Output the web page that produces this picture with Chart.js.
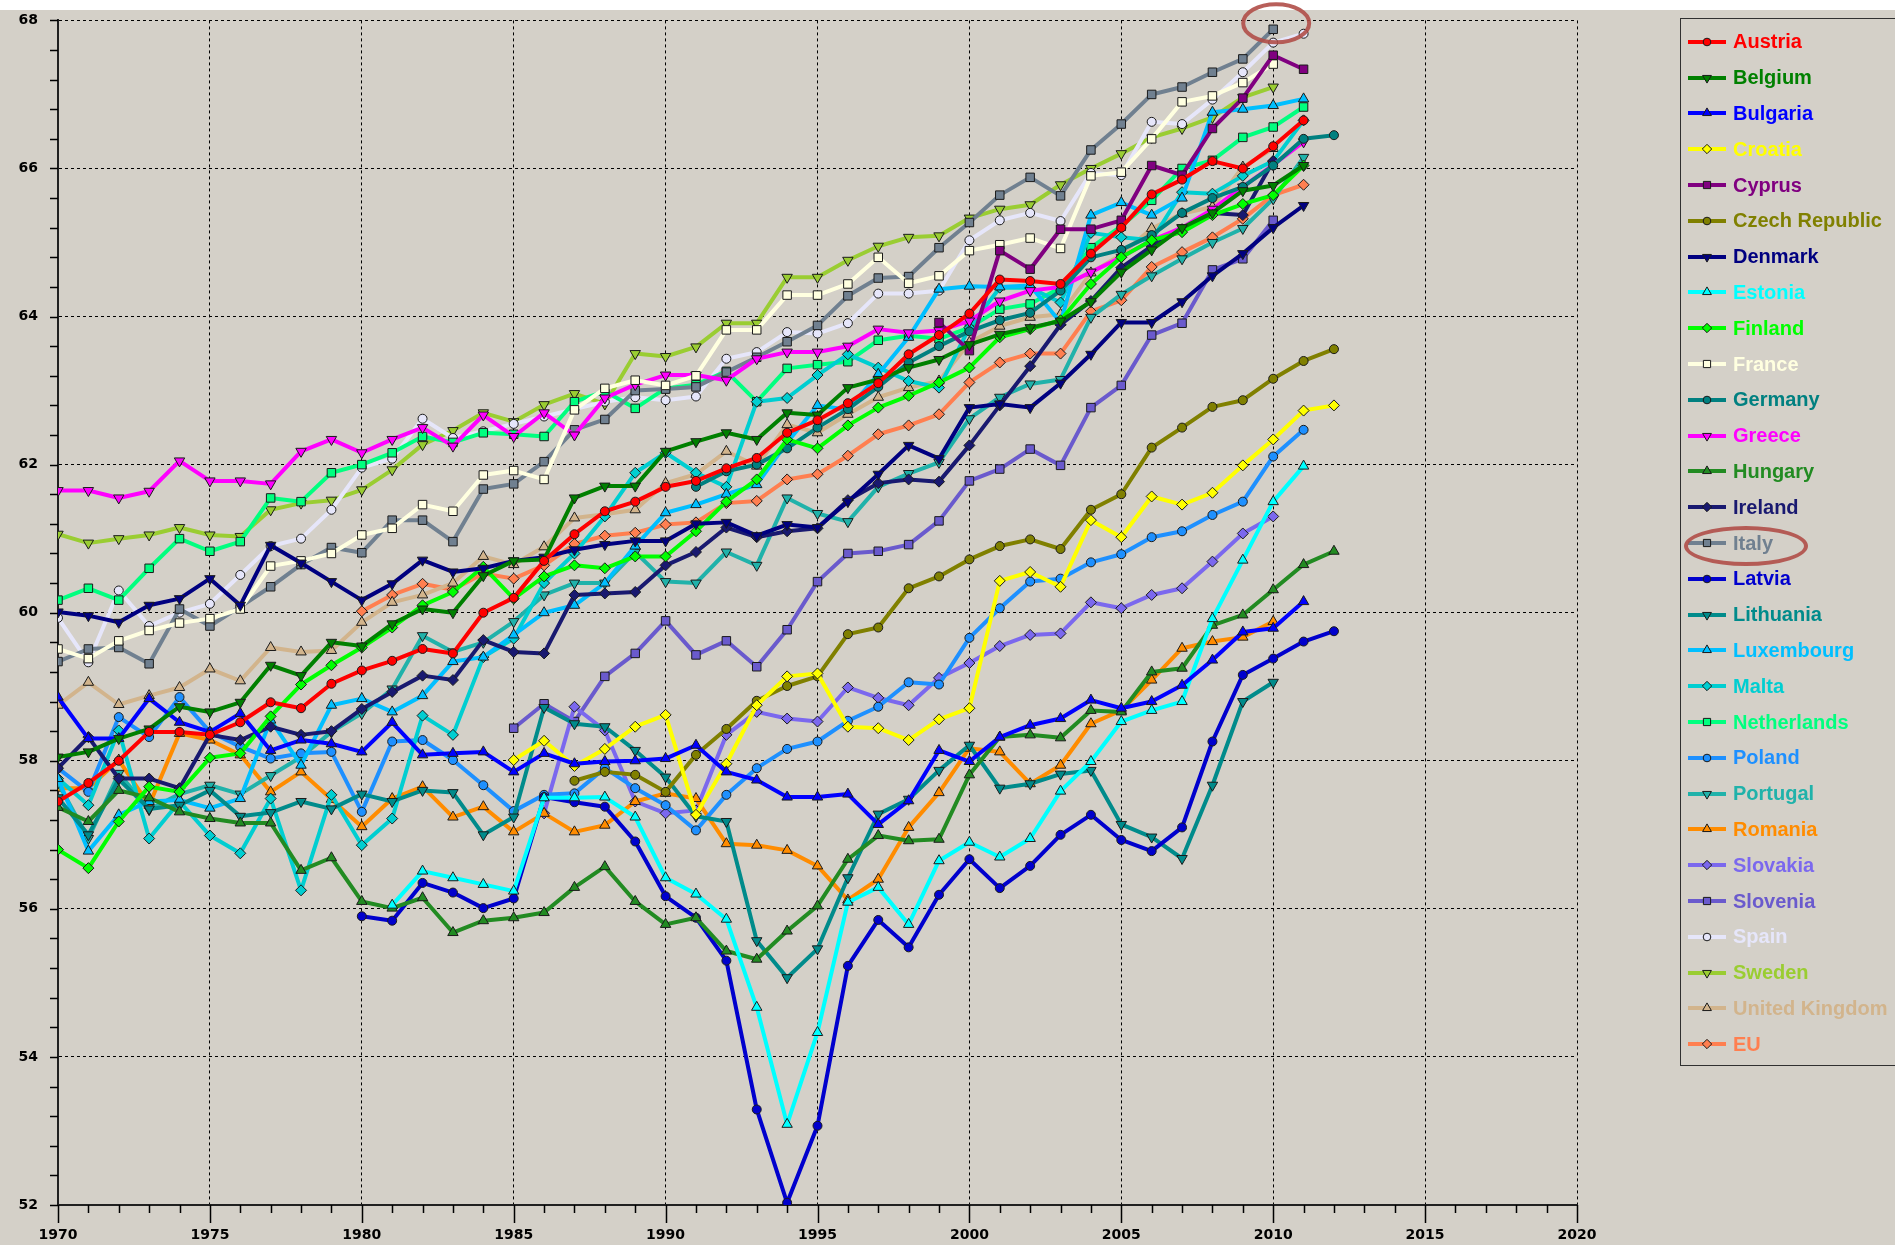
<!DOCTYPE html>
<html>
<head>
<meta charset="utf-8">
<script src="https://cdn.jsdelivr.net/npm/chart.js@4.4.1/dist/chart.umd.min.js"></script>
<style>
  body { margin: 0; background: #d4d0c8; width: 1895px; height: 1245px; overflow: hidden; position: relative; }
  #strip { position: absolute; left: 0; top: 0; width: 1895px; height: 10px; background: #fff; }
  #chart { position: absolute; left: 0; top: 0; }
  #legend { position: absolute; left: 1680px; top: 18px; width: 240px; height: 1048px; border: 1px solid #303030; box-sizing: border-box; padding-top: 5px; }
  .item { height: 35.8px; display: flex; align-items: center; }
  .item canvas { margin-left: 7px; margin-right: 7px; }
  .item span { font: bold 20px "Liberation Sans", Arial, sans-serif; white-space: nowrap; }
  #mark { position: absolute; left: 1684px; top: 526px; width: 124px; height: 40px; border: 4px solid rgba(176, 78, 72, 0.9); border-radius: 50%; box-sizing: border-box; }
</style>
</head>
<body>
<div id="strip"></div>
<canvas id="chart" width="1895" height="1245"></canvas>
<div id="legend"></div>
<div id="mark"></div>
<script>
// values, one array per country, starting at firstYear
const austria = [57.45, 57.7, 58.0, 58.39, 58.39, 58.35, 58.52, 58.79, 58.71, 59.04, 59.22, 59.35, 59.51, 59.45, 60.0, 60.2, 60.7, 61.06, 61.37, 61.5, 61.7, 61.78, 61.95, 62.09, 62.43, 62.6, 62.83, 63.1, 63.49, 63.75, 64.04, 64.5, 64.48, 64.44, 64.85, 65.2, 65.65, 65.85, 66.1, 66.0, 66.3, 66.65];
const belgium = [58.05, 58.12, 58.3, 58.43, 58.73, 58.66, 58.79, 59.29, 59.15, 59.6, 59.55, 59.85, 60.05, 60.0, 60.5, 60.7, 60.72, 61.55, 61.71, 61.71, 62.18, 62.31, 62.43, 62.34, 62.7, 62.67, 63.04, 63.15, 63.31, 63.42, 63.62, 63.76, 63.85, 63.94, 64.2, 64.6, 64.9, 65.2, 65.4, 65.7, 65.77, 66.04];
const bulgaria = [58.86, 58.3, 58.3, 58.84, 58.52, 58.39, 58.64, 58.14, 58.28, 58.23, 58.12, 58.52, 58.08, 58.1, 58.12, 57.85, 58.1, 57.96, 57.99, 58.0, 58.03, 58.21, 57.85, 57.74, 57.51, 57.51, 57.55, 57.14, 57.46, 58.14, 57.99, 58.32, 58.48, 58.57, 58.82, 58.71, 58.8, 59.02, 59.36, 59.74, 59.79, 60.15];
const croatia = [58.01, 58.27, 57.93, 58.16, 58.46, 58.62, 57.27, 57.96, 58.75, 59.14, 59.18, 58.46, 58.44, 58.28, 58.56, 58.71, 60.43, 60.55, 60.35, 61.25, 61.02, 61.57, 61.46, 61.62, 61.99, 62.34, 62.73, 62.8];
const cyprus = [63.92, 63.54, 64.89, 64.64, 65.18, 65.18, 65.3, 66.04, 65.91, 66.54, 66.95, 67.53, 67.34];
const czech = [57.73, 57.85, 57.81, 57.58, 58.08, 58.43, 58.81, 59.01, 59.14, 59.71, 59.8, 60.33, 60.49, 60.72, 60.9, 60.99, 60.86, 61.39, 61.6, 62.23, 62.5, 62.78, 62.87, 63.16, 63.4, 63.56];
const denmark = [60.01, 59.96, 59.87, 60.1, 60.19, 60.46, 60.1, 60.91, 60.67, 60.42, 60.17, 60.39, 60.71, 60.55, 60.6, 60.7, 60.75, 60.85, 60.92, 60.97, 60.97, 61.2, 61.22, 61.04, 61.19, 61.15, 61.5, 61.87, 62.26, 62.08, 62.77, 62.82, 62.77, 63.1, 63.49, 63.92, 63.92, 64.2, 64.55, 64.85, 65.2, 65.5];
const estonia = [56.05, 56.51, 56.42, 56.33, 56.24, 57.5, 57.5, 57.51, 57.24, 56.42, 56.2, 55.86, 54.67, 53.09, 54.33, 56.09, 56.29, 55.79, 56.65, 56.9, 56.7, 56.95, 57.59, 57.99, 58.53, 58.68, 58.8, 59.92, 60.71, 61.5, 61.98];
const finland = [56.8, 56.55, 57.18, 57.65, 57.58, 58.04, 58.1, 58.6, 59.03, 59.29, 59.53, 59.8, 60.1, 60.28, 60.62, 60.19, 60.49, 60.64, 60.6, 60.76, 60.76, 61.1, 61.5, 61.8, 62.34, 62.22, 62.53, 62.77, 62.93, 63.11, 63.31, 63.72, 63.83, 63.95, 64.44, 64.8, 65.03, 65.14, 65.37, 65.52, 65.64, 66.04];
const france = [59.51, 59.38, 59.62, 59.76, 59.86, 59.92, 60.05, 60.63, 60.7, 60.8, 61.05, 61.14, 61.46, 61.37, 61.86, 61.92, 61.8, 62.74, 63.03, 63.14, 63.07, 63.2, 63.82, 63.82, 64.29, 64.29, 64.44, 64.8, 64.45, 64.55, 64.89, 64.97, 65.06, 64.92, 65.9, 65.95, 66.4, 66.9, 66.98, 67.16, 67.41];
const germany = [61.7, 61.91, 62.0, 62.22, 62.5, 62.75, 63.05, 63.38, 63.6, 63.8, 63.95, 64.05, 64.35, 64.8, 64.9, 65.1, 65.4, 65.6, 65.75, 66.04, 66.4, 66.45];
const greece = [61.65, 61.65, 61.55, 61.64, 62.05, 61.78, 61.78, 61.74, 62.18, 62.34, 62.16, 62.34, 62.5, 62.25, 62.67, 62.38, 62.7, 62.4, 62.9, 63.08, 63.21, 63.21, 63.14, 63.43, 63.52, 63.52, 63.6, 63.83, 63.78, 63.81, 63.94, 64.21, 64.35, 64.4, 64.6, 64.8, 65.03, 65.2, 65.45, 65.75, 66.05, 66.36];
const hungary = [57.37, 57.18, 57.6, 57.5, 57.31, 57.22, 57.16, 57.16, 56.52, 56.69, 56.1, 56.01, 56.15, 55.68, 55.84, 55.88, 55.95, 56.29, 56.57, 56.1, 55.79, 55.88, 55.43, 55.32, 55.7, 56.04, 56.67, 56.99, 56.92, 56.94, 57.81, 58.32, 58.35, 58.31, 58.68, 58.66, 59.2, 59.25, 59.83, 59.97, 60.31, 60.65, 60.83];
const ireland = [57.9, 58.32, 57.76, 57.76, 57.63, 58.35, 58.28, 58.46, 58.35, 58.4, 58.7, 58.93, 59.15, 59.09, 59.63, 59.47, 59.45, 60.24, 60.26, 60.28, 60.64, 60.82, 61.15, 61.02, 61.1, 61.14, 61.52, 61.75, 61.8, 61.77, 62.26, 62.8, 63.33, 63.89, 64.21, 64.66, 64.95, 65.18, 65.4, 65.37, 66.1];
const italy = [59.34, 59.51, 59.53, 59.31, 60.05, 59.82, 60.08, 60.35, 60.65, 60.88, 60.81, 61.25, 61.25, 60.96, 61.67, 61.74, 62.04, 62.47, 62.61, 63.0, 63.02, 63.05, 63.25, 63.45, 63.66, 63.88, 64.28, 64.52, 64.54, 64.93, 65.27, 65.64, 65.88, 65.63, 66.25, 66.6, 67.0, 67.1, 67.3, 67.48, 67.88];
const latvia = [55.9, 55.84, 56.35, 56.22, 56.01, 56.14, 57.51, 57.44, 57.38, 56.91, 56.17, 55.88, 55.3, 53.29, 52.03, 53.07, 55.23, 55.85, 55.48, 56.19, 56.67, 56.28, 56.58, 57.0, 57.27, 56.93, 56.78, 57.1, 58.26, 59.16, 59.38, 59.61, 59.75];
const lithuania = [57.5, 57.0, 57.75, 57.35, 57.4, 57.6, 57.25, 57.3, 57.45, 57.35, 57.55, 57.45, 57.6, 57.57, 57.0, 57.24, 58.72, 58.5, 58.46, 58.14, 57.78, 57.25, 57.18, 55.57, 55.07, 55.46, 56.42, 57.28, 57.48, 57.87, 58.21, 57.63, 57.69, 57.82, 57.87, 57.14, 56.97, 56.68, 57.67, 58.8, 59.06];
const luxembourg = [57.76, 56.78, 57.27, 57.45, 57.47, 57.36, 57.49, 58.55, 57.94, 58.75, 58.84, 58.66, 58.88, 59.34, 59.4, 59.7, 60.0, 60.1, 60.4, 60.9, 61.35, 61.46, 61.6, 61.73, 62.3, 62.8, 62.74, 63.22, 63.72, 64.37, 64.41, 64.4, 64.42, 63.92, 65.37, 65.54, 65.37, 65.6, 66.76, 66.8, 66.85, 66.94];
const malta = [57.76, 57.4, 58.41, 56.95, 57.45, 56.99, 56.75, 57.49, 56.25, 57.54, 56.86, 57.22, 58.61, 58.35, 59.4, 59.65, 60.4, 60.8, 61.3, 61.89, 62.16, 61.89, 61.7, 62.85, 62.9, 63.21, 63.49, 63.31, 63.13, 63.04, 63.85, 64.39, 64.39, 64.19, 65.13, 65.07, 65.03, 65.68, 65.66, 65.9, 66.1, 66.65];
const netherlands = [60.17, 60.33, 60.17, 60.6, 61.0, 60.83, 60.96, 61.55, 61.5, 61.89, 62.0, 62.16, 62.38, 62.3, 62.43, 62.41, 62.38, 62.85, 62.99, 62.76, 63.03, 63.08, 63.26, 62.85, 63.3, 63.35, 63.39, 63.68, 63.74, 63.7, 63.85, 64.1, 64.17, 64.39, 64.93, 65.22, 65.57, 66.0, 66.11, 66.42, 66.56, 66.83];
const poland = [57.9, 57.58, 58.59, 58.32, 58.86, 58.39, 58.19, 58.03, 58.1, 58.12, 57.31, 58.26, 58.28, 58.01, 57.67, 57.32, 57.54, 57.56, 57.9, 57.63, 57.4, 57.06, 57.54, 57.9, 58.16, 58.26, 58.54, 58.73, 59.06, 59.03, 59.66, 60.06, 60.42, 60.46, 60.68, 60.79, 61.02, 61.1, 61.32, 61.5, 62.11, 62.47];
const portugal = [57.7, 56.95, 57.83, 57.34, 57.55, 57.67, 57.55, 57.8, 58.05, 58.39, 58.64, 58.97, 59.69, 59.47, 59.6, 59.88, 60.24, 60.4, 60.4, 60.82, 60.42, 60.4, 60.82, 60.64, 61.55, 61.34, 61.23, 61.7, 61.88, 62.03, 62.62, 62.91, 63.09, 63.15, 63.99, 64.3, 64.55, 64.78, 65.0, 65.19, 65.59, 66.15];
const romania = [57.63, 57.63, 58.01, 57.4, 58.37, 58.28, 58.08, 57.58, 57.85, 57.48, 57.11, 57.49, 57.65, 57.24, 57.38, 57.04, 57.29, 57.04, 57.13, 57.45, 57.56, 57.49, 56.88, 56.86, 56.79, 56.58, 56.12, 56.4, 57.1, 57.57, 58.17, 58.12, 57.69, 57.94, 58.5, 58.68, 59.09, 59.52, 59.61, 59.67, 59.88];
const slovakia = [57.29, 58.73, 58.41, 57.45, 57.29, 57.33, 58.35, 58.66, 58.57, 58.53, 58.99, 58.85, 58.75, 59.12, 59.32, 59.55, 59.7, 59.72, 60.14, 60.06, 60.24, 60.33, 60.69, 61.07, 61.3];
const slovenia = [58.44, 58.77, 58.53, 59.14, 59.45, 59.89, 59.43, 59.62, 59.27, 59.77, 60.42, 60.8, 60.83, 60.92, 61.24, 61.78, 61.94, 62.21, 61.99, 62.77, 63.07, 63.75, 63.91, 64.63, 64.78, 65.3];
const spain = [59.93, 59.33, 60.3, 59.82, 60.0, 60.12, 60.51, 60.9, 61.0, 61.39, 61.96, 62.08, 62.62, 62.36, 62.45, 62.55, 62.65, 62.75, 62.85, 62.91, 62.87, 62.92, 63.43, 63.52, 63.79, 63.77, 63.91, 64.31, 64.31, 64.35, 65.03, 65.3, 65.4, 65.29, 65.94, 65.91, 66.63, 66.6, 66.93, 67.3, 67.7, 67.82];
const sweden = [61.06, 60.94, 61.0, 61.05, 61.15, 61.05, 61.03, 61.39, 61.48, 61.52, 61.66, 61.93, 62.27, 62.46, 62.7, 62.58, 62.81, 62.96, 62.82, 63.5, 63.46, 63.59, 63.91, 63.91, 64.53, 64.53, 64.76, 64.95, 65.07, 65.09, 65.33, 65.45, 65.51, 65.78, 66.0, 66.2, 66.42, 66.54, 66.69, 66.96, 67.1];
const unitedKingdom = [58.75, 59.06, 58.76, 58.88, 58.99, 59.24, 59.08, 59.53, 59.47, 59.49, 59.87, 60.14, 60.24, 60.4, 60.76, 60.65, 60.89, 61.28, 61.33, 61.39, 61.75, 61.87, 62.18, 61.98, 62.54, 62.43, 62.68, 62.91, 63.04, 63.13, 63.65, 63.87, 63.99, 64.03, 64.59, 64.84, 65.19, 65.39, 65.48, 66.02, 66.27];
const eu = [60.02, 60.24, 60.39, 60.31, 60.53, 60.46, 60.64, 60.93, 61.04, 61.08, 61.19, 61.22, 61.48, 61.51, 61.8, 61.87, 62.12, 62.41, 62.53, 62.68, 63.11, 63.38, 63.5, 63.5, 64.07, 64.22, 64.67, 64.87, 65.07, 65.32, 65.64, 65.78];

const countries = ['Austria', 'Belgium', 'Bulgaria', 'Croatia', 'Cyprus', 'Czech Republic', 'Denmark', 'Estonia', 'Finland', 'France', 'Germany', 'Greece', 'Hungary', 'Ireland', 'Italy', 'Latvia', 'Lithuania', 'Luxembourg', 'Malta', 'Netherlands', 'Poland', 'Portugal', 'Romania', 'Slovakia', 'Slovenia', 'Spain', 'Sweden', 'United Kingdom', 'EU'];
const series = [austria, belgium, bulgaria, croatia, cyprus, czech, denmark, estonia, finland, france, germany, greece, hungary, ireland, italy, latvia, lithuania, luxembourg, malta, netherlands, poland, portugal, romania, slovakia, slovenia, spain, sweden, unitedKingdom, eu];
const firstYear = [1970, 1970, 1970, 1985, 1999, 1987, 1970, 1981, 1970, 1970, 1991, 1970, 1970, 1970, 1970, 1980, 1970, 1970, 1970, 1970, 1970, 1970, 1970, 1986, 1985, 1970, 1970, 1970, 1980];
const colors = ['#ff0000', '#008000', '#0000ff', '#ffff00', '#800080', '#808000', '#000080', '#00ffff', '#00ff00', '#ffffe0', '#008080', '#ff00ff', '#228b22', '#191970', '#708090', '#0000cd', '#008b8b', '#00bfff', '#00ced1', '#00ff7f', '#1e90ff', '#20b2aa', '#ff8c00', '#7b68ee', '#6a5acd', '#e6e6fa', '#9acd32', '#d2b48c', '#ff7f50'];

// marker shapes repeat every 5 series
const shapes = [
  {style: 'circle', rot: 0, r: 4.5},
  {style: 'triangle', rot: 180, r: 6},
  {style: 'triangle', rot: 0, r: 6},
  {style: 'rectRot', rot: 0, r: 5.5},
  {style: 'rect', rot: 0, r: 6}
];

const datasets = countries.map((name, i) => {
  const s = shapes[i % 5];
  return {
    label: name,
    data: series[i].map((v, k) => ({x: firstYear[i] + k, y: v})),
    borderColor: colors[i],
    backgroundColor: colors[i],
    borderWidth: 4,
    borderJoinStyle: 'round',
    pointStyle: s.style,
    pointRotation: s.rot,
    pointRadius: s.r,
    pointBackgroundColor: colors[i],
    pointBorderColor: '#1a1a1a',
    pointBorderWidth: 1,
    tension: 0
  };
});

// year ticks every year, value ticks every 0.4
const minorTicks = {
  id: 'minorTicks',
  afterDraw(chart) {
    const {ctx, chartArea, scales: {x, y}} = chart;
    ctx.save();
    ctx.strokeStyle = '#000';
    ctx.lineWidth = 1.5;
    ctx.beginPath();
    for (let yr = 1970; yr <= 2020; yr++) {
      const px = Math.round(x.getPixelForValue(yr)) + 0.5;
      const len = yr % 5 === 0 ? 18 : 8;
      ctx.moveTo(px, chartArea.bottom);
      ctx.lineTo(px, chartArea.bottom + len);
    }
    for (let i = 0; i <= 40; i++) {
      const py = Math.round(y.getPixelForValue(52 + i * 0.4)) + 0.5;
      ctx.moveTo(chartArea.left - 8, py);
      ctx.lineTo(chartArea.left, py);
    }
    ctx.stroke();
    ctx.restore();
  }
};

// red ring round the last Italy point
const italyRing = {
  id: 'italyRing',
  afterDraw(chart) {
    const {ctx, scales: {x, y}} = chart;
    const idx = countries.indexOf('Italy');
    const last = series[idx].length - 1;
    const cx = x.getPixelForValue(firstYear[idx] + last) + 3;
    const cy = y.getPixelForValue(series[idx][last]) - 6;
    ctx.save();
    ctx.strokeStyle = 'rgba(176, 78, 72, 0.9)';
    ctx.lineWidth = 4;
    ctx.beginPath();
    ctx.ellipse(cx, cy, 33, 19, 0, 0, Math.PI * 2);
    ctx.stroke();
    ctx.restore();
  }
};

const tickFont = {family: 'DejaVu Sans', size: 14, weight: 'bold'};

new Chart(document.getElementById('chart'), {
  type: 'line',
  data: {datasets: datasets},
  options: {
    responsive: false,
    animation: false,
    layout: {padding: {top: 18, right: 318, left: 0, bottom: 0}},
    plugins: {legend: {display: false}, tooltip: {enabled: false}},
    scales: {
      x: {
        type: 'linear', min: 1970, max: 2020,
        ticks: {stepSize: 5, color: '#000', font: tickFont, padding: 4, maxRotation: 0, callback: v => String(v)},
        grid: {color: '#000', lineWidth: 1, tickLength: 18, tickColor: 'transparent'},
        border: {display: true, color: '#202020', width: 2, dash: [3, 3]},
        afterFit(s) { s.height = 40; }
      },
      y: {
        min: 52, max: 68,
        ticks: {stepSize: 2, color: '#000', font: tickFont, padding: 12},
        grid: {color: '#000', lineWidth: 1, tickLength: 8, tickColor: 'transparent'},
        border: {display: true, color: '#202020', width: 2, dash: [3, 3]},
        afterFit(s) { s.width = 58; }
      }
    }
  },
  plugins: [minorTicks, italyRing]
});

// legend built from the same arrays
const legend = document.getElementById('legend');
countries.forEach((name, i) => {
  const s = shapes[i % 5];
  const row = document.createElement('div');
  row.className = 'item';
  const c = document.createElement('canvas');
  c.width = 38; c.height = 16;
  const g = c.getContext('2d');
  g.strokeStyle = colors[i];
  g.lineWidth = 4;
  g.beginPath(); g.moveTo(0, 8); g.lineTo(38, 8); g.stroke();
  g.fillStyle = colors[i];
  g.strokeStyle = '#1a1a1a';
  g.lineWidth = 1;
  Chart.helpers.drawPoint(g, {pointStyle: s.style, rotation: s.rot, radius: s.r * 0.85, borderWidth: 1}, 19, 8);
  const t = document.createElement('span');
  t.textContent = name;
  t.style.color = colors[i];
  row.appendChild(c);
  row.appendChild(t);
  legend.appendChild(row);
});
</script>
</body>
</html>
